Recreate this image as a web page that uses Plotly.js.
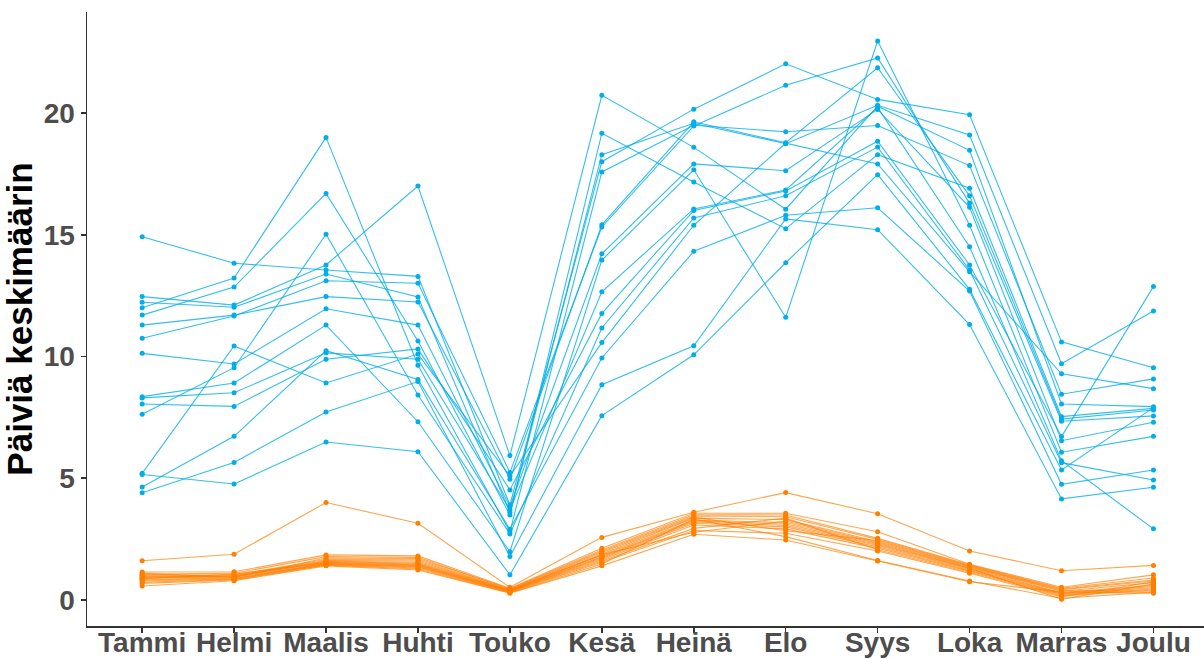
<!DOCTYPE html>
<html>
<head>
<meta charset="utf-8">
<script src="https://cdn.plot.ly/plotly-3.0.1.min.js"></script>
<style>html,body{margin:0;padding:0;background:#fff;}#chart{width:1204px;height:659px;}</style>
</head>
<body>
<div id="chart"></div>
<script>
const months = ["Tammi","Helmi","Maalis","Huhti","Touko","Kesä","Heinä","Elo","Syys","Loka","Marras","Joulu"];
const yTicks = [0, 5, 10, 15, 20];

// Blue series (päiviä keskimäärin), one array per line
const blueSeries = [
  [14.92, 13.83, 13.55, 13.29, 3.90, 18.00, 20.16, 22.02, 20.56, 19.93, 10.60, 9.54],
  [12.46, 12.11, 13.76, 17.00, 5.93, 20.73, 18.59, 16.05, 20.28, 18.47, 8.05, 7.94],
  [12.23, 12.02, 13.39, 12.44, 3.60, 18.29, 19.58, 18.74, 20.32, 19.10, 9.70, 11.87],
  [12.00, 13.22, 19.00, 9.64, 2.80, 17.58, 19.50, 19.23, 19.49, 17.84, 8.45, 9.08],
  [11.70, 12.85, 16.70, 10.64, 3.49, 19.17, 17.17, 15.25, 18.29, 16.91, 7.53, 7.87],
  [11.29, 11.70, 12.46, 12.24, 4.96, 15.41, 19.64, 18.78, 21.86, 16.60, 7.43, 7.80],
  [10.75, 11.66, 13.11, 13.01, 5.24, 15.32, 19.47, 21.14, 22.26, 16.30, 7.34, 7.56],
  [10.13, 9.69, 11.96, 11.29, 3.83, 14.22, 17.91, 17.63, 20.15, 16.13, 6.54, 7.30],
  [8.35, 8.91, 11.29, 7.32, 1.98, 13.96, 17.67, 11.61, 22.96, 15.39, 6.07, 6.72],
  [8.30, 8.51, 10.15, 9.89, 3.70, 12.66, 16.06, 16.84, 20.23, 14.51, 5.72, 2.92],
  [8.05, 7.95, 9.89, 10.31, 4.52, 11.77, 16.00, 16.80, 18.84, 13.76, 6.71, 12.87],
  [7.63, 9.54, 15.02, 8.42, 2.71, 11.17, 15.69, 16.60, 18.60, 13.55, 5.64, 4.93],
  [5.20, 10.43, 8.91, 10.10, 5.09, 10.57, 15.39, 18.76, 17.91, 13.48, 9.29, 8.68],
  [5.15, 4.76, 6.49, 6.09, 1.03, 7.57, 10.07, 13.85, 17.47, 12.76, 5.34, 7.90],
  [4.64, 6.72, 10.24, 9.06, 2.90, 9.94, 14.32, 15.80, 16.11, 12.69, 4.75, 5.34],
  [4.40, 5.65, 7.72, 8.97, 1.78, 8.84, 10.44, 15.65, 15.21, 11.31, 4.15, 4.63]
];

// Orange series, one array per line
const orangeSeries = [
  [1.61, 1.88, 4.00, 3.15, 0.52, 2.57, 3.60, 4.41, 3.54, 2.01, 1.20, 1.42],
  [1.15, 1.16, 1.85, 1.81, 0.48, 2.12, 3.56, 3.56, 2.80, 1.47, 0.52, 1.03],
  [1.10, 0.92, 1.72, 1.70, 0.46, 2.05, 3.50, 3.49, 2.53, 1.44, 0.48, 0.90],
  [1.05, 1.10, 1.78, 1.75, 0.44, 2.00, 3.45, 3.42, 2.48, 1.41, 0.45, 0.82],
  [1.02, 1.03, 1.66, 1.65, 0.42, 1.95, 3.40, 2.84, 2.44, 1.38, 0.42, 0.78],
  [0.98, 1.00, 1.62, 1.60, 0.41, 1.90, 3.36, 3.30, 2.40, 1.35, 0.39, 0.36],
  [0.95, 0.98, 1.59, 1.55, 0.40, 1.86, 2.78, 3.24, 2.36, 1.32, 0.36, 0.71],
  [0.92, 0.96, 1.57, 1.51, 0.39, 1.82, 3.28, 3.18, 2.32, 1.30, 0.03, 0.66],
  [0.90, 0.94, 1.55, 1.47, 0.38, 1.78, 3.24, 3.12, 2.28, 1.28, 0.30, 0.60],
  [0.87, 1.06, 1.53, 1.44, 0.37, 1.74, 3.20, 3.06, 2.24, 1.25, 0.27, 0.55],
  [0.85, 0.90, 1.51, 1.41, 0.36, 1.70, 3.15, 3.00, 2.18, 1.22, 0.24, 0.50],
  [0.82, 0.88, 1.49, 1.38, 0.35, 1.65, 3.08, 2.92, 2.12, 1.18, 0.20, 0.45],
  [0.78, 0.86, 1.47, 1.35, 0.34, 1.60, 2.94, 3.36, 2.06, 1.14, 0.16, 0.41],
  [0.73, 0.84, 1.45, 1.31, 0.32, 1.55, 2.85, 2.74, 2.01, 1.10, 0.12, 0.75],
  [0.68, 0.82, 1.43, 1.27, 0.30, 1.48, 3.32, 2.60, 1.62, 0.78, 0.07, 0.32],
  [0.57, 0.79, 1.40, 1.23, 0.28, 1.40, 2.70, 2.46, 1.60, 0.75, 0.33, 0.28]
];

const blueLine = "rgba(0,174,232,0.8)";
const blueMarker = "#00AEEA";
const orangeLine = "rgba(255,127,0,0.7)";
const orangeMarker = "#FF7F00";

const traces = [];
blueSeries.forEach(function (s) {
  traces.push({
    x: months, y: s, type: "scatter", mode: "lines+markers",
    line: {color: blueLine, width: 1.1},
    marker: {color: blueMarker, size: 5},
    showlegend: false, hoverinfo: "x+y"
  });
});
orangeSeries.forEach(function (s) {
  traces.push({
    x: months, y: s, type: "scatter", mode: "lines+markers",
    line: {color: orangeLine, width: 1.1},
    marker: {color: orangeMarker, size: 5},
    showlegend: false, hoverinfo: "x+y"
  });
});

const tickFont = {family: "Liberation Sans, Arial, sans-serif", size: 28, color: "#4D4D4D", weight: "bold"};

const layout = {
  width: 1204, height: 659,
  margin: {l: 87, r: 0, t: 12, b: 33, pad: 0},
  paper_bgcolor: "#ffffff", plot_bgcolor: "#ffffff",
  showlegend: false,
  xaxis: {
    type: "category",
    categoryorder: "array", categoryarray: months,
    range: [-0.6, 11.55],
    showgrid: false, zeroline: false,
    showline: true, linecolor: "#333333", linewidth: 1.5,
    ticks: "outside", ticklen: 5, tickwidth: 1.5, tickcolor: "#333333",
    tickfont: tickFont,
    ticklabelstandoff: -14,
    automargin: false, fixedrange: true
  },
  yaxis: {
    range: [-1.07, 24.15],
    tickvals: yTicks,
    ticktext: yTicks.map(String),
    showgrid: false, zeroline: false,
    showline: true, linecolor: "#333333", linewidth: 1.5,
    ticks: "outside", ticklen: 5, tickwidth: 1.5, tickcolor: "#333333",
    tickfont: tickFont,
    title: {text: "Päiviä keskimäärin", font: {family: "Liberation Sans, Arial, sans-serif", size: 35, color: "#000000", weight: "bold"}, standoff: 4},
    automargin: false, fixedrange: true
  }
};

Plotly.newPlot("chart", traces, layout, {displayModeBar: false, staticPlot: true});
</script>
</body>
</html>
